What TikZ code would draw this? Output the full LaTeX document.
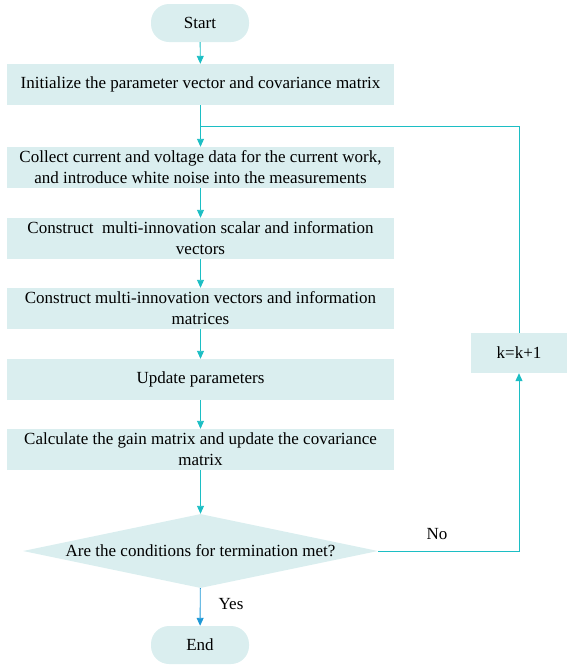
\documentclass[tikz,border=0pt]{standalone}
\usepackage{fontspec}
\setmainfont{Liberation Serif}
\usetikzlibrary{shapes.geometric,arrows.meta}
\definecolor{cajafondo}{HTML}{DAEEEF}
\definecolor{lineaflujo}{HTML}{1CBEC4}
\definecolor{lineasi}{HTML}{1E98D6}
\begin{document}
\begin{tikzpicture}[x=1pt,y=-1pt,
		texto/.style={font=\fontsize{17}{21}\selectfont},
		caja/.style={texto, fill=cajafondo, minimum width=387pt, minimum height=41pt, inner sep=0pt, align=center},
		terminal/.style={texto, fill=cajafondo, rounded corners=18pt, minimum width=98pt, minimum height=38pt, inner sep=0pt},
		decision/.style={texto, diamond, fill=cajafondo, aspect=4.8, minimum width=355pt, minimum height=74pt, inner sep=0pt},
		flecha/.style={draw=lineaflujo, line width=0.9pt, -{Triangle[length=8pt,width=7pt]}},
		linea/.style={draw=lineaflujo, line width=0.9pt}]
		\useasboundingbox (0,0) rectangle (567,665);
		%%%% NODOS
		\node[terminal] at (200,23) (inicio) {Start};
		\node[caja] at (200.5,84.5) (iniciar) {Initialize the parameter vector and covariance matrix};
		\node[caja] at (200.5,167.5) (medir) {Collect current and voltage data for the current work,\\and introduce white noise into the measurements};
		\node[caja] at (200.5,238.5) (escalar) {Construct~ multi-innovation scalar and information\\vectors};
		\node[caja] at (200.5,308.5) (matrices) {Construct multi-innovation vectors and information\\matrices};
		\node[caja] at (200.5,379.5) (actualizar) {Update parameters};
		\node[caja] at (200.5,449.5) (ganancia) {Calculate the gain matrix and update the covariance\\matrix};
		\node[decision] at (200.5,551) (condicion) {Are the conditions for termination met?};
		\node[terminal] at (200,645) (fin) {End};
		\node[caja, minimum width=96pt, minimum height=40pt] at (519,353) (contador) {k=k+1};
		\coordinate (union) at (200.5,126);
		%%%% FLECHAS
		\draw [flecha] (inicio) -- (iniciar);
		\draw [flecha] (iniciar) -- (medir);
		\draw [flecha] (medir) -- (escalar);
		\draw [flecha] (escalar) -- (matrices);
		\draw [flecha] (matrices) -- (actualizar);
		\draw [flecha] (actualizar) -- (ganancia);
		\draw [flecha] (ganancia) -- (condicion);
		\draw [flecha, draw=lineasi, -{Triangle[length=8pt,width=7pt,fill=lineasi]}] (condicion) -- (fin);
		%% lazo
		\draw [flecha] (condicion.east) -| (contador.south);
		\draw [linea] (contador.north) |- (union);
		\node[texto] at (437,534) (no) {No};
		\node[texto] at (231,604) (si) {Yes};
\end{tikzpicture}
\end{document}
